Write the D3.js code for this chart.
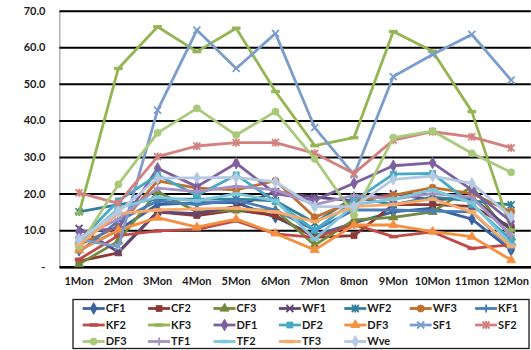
<!DOCTYPE html>
<html>
<head>
<meta charset="utf-8">
<script src="https://cdn.jsdelivr.net/npm/d3@7/dist/d3.min.js"></script>
<style>
  body { margin: 0; background: #fff; }
  svg text { font-family: Lato, "Open Sans", sans-serif; font-weight: bold; fill: #1b1b1b; }
</style>
</head>
<body>
<svg id="chart" width="531" height="350"></svg>
<script>
// Month categories on the x axis
const months = ["1Mon", "2Mon", "3Mon", "4Mon", "5Mon", "6Mon", "7Mon", "8mon", "9Mon", "10Mon", "11mon", "12Mon"];
// Y axis ticks
const yTicks = [0, 10, 20, 30, 40, 50, 60, 70];

// Monthly values per series
const cf1  = [4.5, 10.0, 17.0, 17.5, 17.5, 13.5, 8.5, 12.0, 15.0, 16.0, 13.0, 4.5];
const cf2  = [1.5, 3.8, 15.0, 14.0, 15.5, 14.0, 8.0, 8.5, 17.0, 17.0, 16.5, 10.8];
const cf3  = [0.7, 7.0, 20.5, 15.0, 15.5, 15.5, 5.9, 12.8, 13.5, 15.0, 21.9, 8.0];
const wf1  = [10.5, 4.0, 15.0, 14.5, 16.5, 20.5, 19.0, 18.0, 20.0, 18.2, 19.0, 10.0];
const wf2  = [15.0, 17.0, 18.5, 18.5, 18.5, 18.0, 12.0, 19.0, 17.0, 19.0, 18.0, 16.9];
const wf3  = [6.0, 11.0, 23.5, 21.5, 21.0, 23.5, 13.5, 18.0, 19.5, 21.6, 20.0, 15.0];
const kf1  = [4.0, 12.5, 18.0, 17.0, 18.2, 15.5, 10.0, 15.5, 15.5, 15.2, 15.0, 5.0];
const kf2  = [2.0, 8.5, 9.8, 10.2, 12.5, 9.0, 8.0, 11.5, 8.2, 9.5, 5.0, 6.0];
const kf3  = [14.6, 54.2, 65.6, 58.8, 65.2, 47.9, 33.1, 35.3, 64.3, 58.9, 42.4, 10.0];
const df1  = [9.5, 10.5, 26.9, 21.9, 28.3, 20.0, 18.2, 22.8, 27.6, 28.4, 21.0, 12.3];
const df2  = [7.0, 18.0, 25.1, 19.5, 25.1, 17.8, 10.0, 18.0, 25.3, 25.5, 17.0, 7.3];
const df3  = [4.5, 10.0, 13.4, 10.8, 13.0, 9.1, 4.6, 11.4, 11.4, 9.6, 8.2, 1.8];
const sf1  = [7.5, 5.5, 42.8, 64.7, 54.2, 63.8, 38.0, 25.1, 52.0, 58.0, 63.5, 51.0];
const sf2  = [20.2, 17.3, 30.1, 33.0, 33.9, 33.9, 31.0, 25.5, 34.6, 36.9, 35.5, 32.5];
const df3b = [5.5, 22.5, 36.6, 43.3, 36.0, 42.4, 29.5, 14.1, 35.3, 37.1, 31.0, 25.8];
const tf1  = [8.0, 13.0, 21.5, 20.5, 22.0, 21.0, 17.0, 19.5, 18.5, 20.0, 19.0, 8.5];
const tf2  = [6.5, 16.0, 19.0, 18.0, 20.0, 18.0, 7.5, 17.0, 18.5, 21.0, 17.5, 6.0];
const tf3  = [6.0, 14.5, 15.5, 15.8, 16.0, 15.0, 12.3, 16.5, 17.0, 18.5, 15.0, 5.5];
const wve  = [7.5, 15.0, 24.2, 24.3, 24.4, 23.2, 16.4, 16.4, 23.9, 24.8, 22.8, 13.7];

const seriesNames = ["CF1", "CF2", "CF3", "WF1", "WF2", "WF3", "KF1", "KF2", "KF3", "DF1",
                     "DF2", "DF3", "SF1", "SF2", "DF3", "TF1", "TF2", "TF3", "Wve"];
const seriesValues = [cf1, cf2, cf3, wf1, wf2, wf3, kf1, kf2, kf3, df1,
                      df2, df3, sf1, sf2, df3b, tf1, tf2, tf3, wve];
const seriesColors = ["#3A639C", "#8E3834", "#72893E", "#5D4777", "#33809A", "#C06F2C",
                      "#4A7EBB", "#BE4B48", "#93B552", "#7D60A0", "#46AAC5", "#F39040",
                      "#7B9DCB", "#D3817F", "#A9C97B", "#A593C4", "#7EC7DA", "#F9A96B", "#B5C9E3"];
const seriesMarkers = ["diamond", "square", "triangle", "x", "star", "circle", "plus", "dash", "dash",
                       "diamond", "square", "triangle", "x", "star", "circle", "plus", "dash", "dash", "diamond"];

const svg = d3.select("#chart");
const plotLeft = 59.4, plotRight = 530.8, plotTop = 10.7, plotBottom = 266.7;

const x = d3.scaleBand().domain(months).range([plotLeft, plotRight]);
const cx = m => x(m) + x.bandwidth() / 2;
const y = d3.scaleLinear().domain([0, 70]).range([plotBottom, plotTop]);

// Horizontal gridlines and value labels
const yAxis = d3.axisLeft(y)
  .tickValues(yTicks)
  .tickFormat(v => v === 0 ? "-" : v.toFixed(1))
  .tickSize(-(plotRight - plotLeft))
  .tickPadding(14);
const gy = svg.append("g").attr("transform", `translate(${plotLeft},0)`).call(yAxis);
gy.select(".domain").attr("stroke", "#8c8c8c").attr("stroke-width", 1);
gy.selectAll(".tick line").attr("stroke", "#000").attr("stroke-width", 2);
gy.selectAll(".tick text").attr("font-size", 11).attr("fill", "#1b1b1b");

// Category axis
const xAxis = d3.axisBottom(x).tickSize(0).tickPadding(11);
const gx = svg.append("g").attr("transform", `translate(0,${plotBottom})`).call(xAxis);
gx.select(".domain").attr("stroke", "#000").attr("stroke-width", 2.5);
gx.selectAll(".tick text").attr("font-size", 11).attr("fill", "#1b1b1b");

// Marker shapes
function markerPath(kind) {
  switch (kind) {
    case "diamond": return d3.symbol(d3.symbolDiamond, 40)();
    case "square": return d3.symbol(d3.symbolSquare, 36)();
    case "triangle": return d3.symbol(d3.symbolTriangle, 36)();
    case "circle": return d3.symbol(d3.symbolCircle, 40)();
    case "x": return "M-3.5,-3.5L3.5,3.5M-3.5,3.5L3.5,-3.5";
    case "star": return "M-3.5,-3.5L3.5,3.5M-3.5,3.5L3.5,-3.5M0,-4L0,4";
    case "plus": return "M-4,0L4,0M0,-4L0,4";
    case "dash": return "M-4,-1.3L4,-1.3L4,1.3L-4,1.3Z";
  }
}
const stroked = k => k === "x" || k === "star" || k === "plus";

function drawMarker(g, kind, color, px, py) {
  const p = g.append("path")
    .attr("d", markerPath(kind))
    .attr("transform", `translate(${px},${py})`);
  if (stroked(kind)) {
    p.attr("fill", "none").attr("stroke", color).attr("stroke-width", 1.8);
  } else {
    p.attr("fill", color).attr("stroke", color).attr("stroke-width", 0.8);
  }
}

const line = d3.line().x((d, i) => cx(months[i])).y(d => y(d));

// Series lines with markers
const plot = svg.append("g");
seriesValues.forEach((vals, s) => {
  const g = plot.append("g");
  g.append("path")
    .attr("d", line(vals))
    .attr("fill", "none")
    .attr("stroke", seriesColors[s])
    .attr("stroke-width", 2.8)
    .attr("stroke-linejoin", "round");
  vals.forEach((v, i) => drawMarker(g, seriesMarkers[s], seriesColors[s], cx(months[i]), y(v)));
});

// Legend
const legend = svg.append("g");
legend.append("rect")
  .attr("x", 73).attr("y", 299.5).attr("width", 456).attr("height", 49)
  .attr("fill", "#fff").attr("stroke", "#1b1b1b").attr("stroke-width", 1.3);
const colW = 65.4, rowY = [308.5, 325, 341.5];
seriesNames.forEach((name, s) => {
  const col = s % 7, row = Math.floor(s / 7);
  const x0 = 82.7 + col * colW, yy = rowY[row];
  const g = legend.append("g");
  g.append("line")
    .attr("x1", x0).attr("x2", x0 + 22).attr("y1", yy).attr("y2", yy)
    .attr("stroke", seriesColors[s]).attr("stroke-width", 2.8);
  drawMarker(g, seriesMarkers[s], seriesColors[s], x0 + 11, yy);
  g.append("text")
    .attr("x", x0 + 23).attr("y", yy).attr("dy", "0.36em")
    .attr("font-size", 11)
    .text(name);
});
</script>
</body>
</html>
